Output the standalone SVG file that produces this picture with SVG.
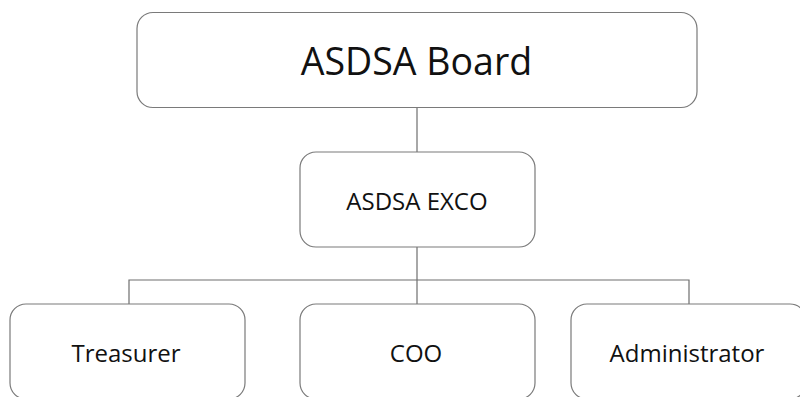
<svg xmlns="http://www.w3.org/2000/svg" width="800" height="397" viewBox="0 0 800 397">
<style>
.box{fill:#fff;stroke:#7a7a7a;stroke-width:1.2}
.lbl{font-family:"Open Sans","Liberation Sans",sans-serif;fill:#111;text-anchor:middle}
.con{fill:none;stroke:#6e6e6e;stroke-width:1.2}
</style>
<rect width="800" height="397" fill="#fff"/>
<g id="connectors">
<path class="con" d="M417 107V152"/>
<path class="con" d="M417 247V304"/>
<path class="con" d="M129 304V280H689V304"/>
</g>
<g id="board"><rect class="box" x="137" y="12.5" width="560" height="95" rx="16"/><text class="lbl" x="416.5" y="75" font-size="37.5">ASDSA Board</text></g>
<g id="exco"><rect class="box" x="300" y="152" width="235" height="95" rx="16"/><text class="lbl" x="417" y="210" font-size="24">ASDSA EXCO</text></g>
<g id="treasurer"><rect class="box" x="10" y="304" width="235" height="95" rx="16"/><text class="lbl" x="126" y="362" font-size="24">Treasurer</text></g>
<g id="coo"><rect class="box" x="300" y="304" width="235" height="95" rx="16"/><text class="lbl" x="416" y="362" font-size="24">COO</text></g>
<g id="administrator"><rect class="box" x="571" y="304" width="235" height="95" rx="16"/><text class="lbl" x="687" y="362" font-size="24">Administrator</text></g>
</svg>
